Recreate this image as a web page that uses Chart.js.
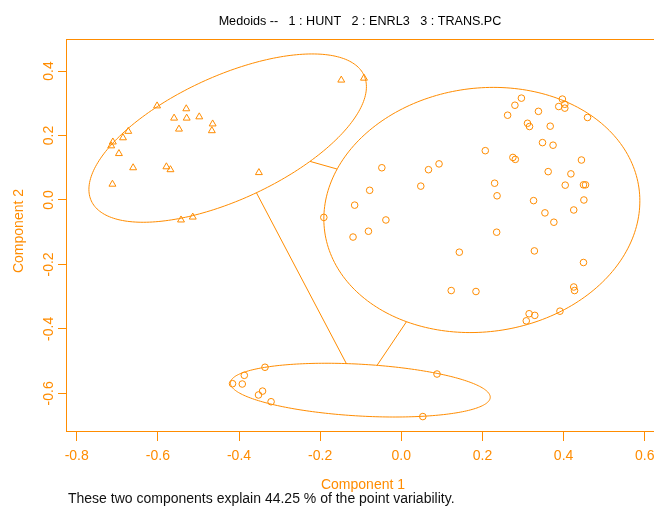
<!DOCTYPE html>
<html>
<head>
<meta charset="utf-8">
<script src="https://cdn.jsdelivr.net/npm/chart.js@4.4.0/dist/chart.umd.min.js"></script>
<style>
  html, body { margin: 0; padding: 0; background: #fff; }
</style>
</head>
<body>
<canvas id="myChart" width="654" height="508"></canvas>
<script>
// tick labels
const xTicks = [-0.8, -0.6, -0.4, -0.2, 0.0, 0.2, 0.4, 0.6];
const yTicks = [-0.6, -0.4, -0.2, 0.0, 0.2, 0.4];

// cluster 1 (HUNT) - triangles
const cluster1X = [-0.148, -0.092, -0.602, -0.530, -0.560, -0.529, -0.498, -0.465, -0.467, -0.548, -0.673,
                   -0.686, -0.711, -0.715, -0.696, -0.661, -0.579, -0.569, -0.351, -0.712, -0.543, -0.514];
const cluster1Y = [0.372, 0.378, 0.292, 0.283, 0.254, 0.254, 0.258, 0.236, 0.215, 0.220, 0.213,
                   0.193, 0.180, 0.168, 0.144, 0.100, 0.103, 0.094, 0.085, 0.049, -0.062, -0.053];

// cluster 2 (ENRL3) - circles
const cluster2X = [0.397, 0.403, 0.388, 0.403, 0.296, 0.280, 0.262, 0.338, 0.459, 0.311, 0.316, 0.367, 0.348,
                   0.374, 0.207, 0.275, 0.281, 0.444, -0.048, 0.093, 0.067, 0.362, 0.418, 0.048, 0.230, 0.404,
                   0.449, 0.454, -0.078, 0.236, 0.326, 0.450, -0.115, 0.425, 0.354, -0.191, 0.376, -0.038,
                   -0.081, -0.119, 0.235, 0.143, 0.328, 0.449, 0.123, 0.184, 0.425, 0.427, 0.315, 0.329, 0.308, 0.391];
const cluster2Y = [0.313, 0.297, 0.290, 0.285, 0.316, 0.294, 0.263, 0.275, 0.256, 0.238, 0.228, 0.229, 0.178,
                   0.170, 0.153, 0.132, 0.126, 0.124, 0.100, 0.112, 0.094, 0.088, 0.081, 0.043, 0.052, 0.046,
                   0.047, 0.047, 0.030, 0.013, -0.002, 0.000, -0.016, -0.031, -0.040, -0.054, -0.069, -0.062,
                   -0.097, -0.115, -0.100, -0.162, -0.158, -0.194, -0.281, -0.284, -0.270, -0.281, -0.353, -0.358, -0.375, -0.345];

// cluster 3 (TRANS.PC) - circles
const cluster3X = [-0.336, -0.387, -0.416, -0.392, -0.342, -0.352, -0.321, 0.088, 0.053];
const cluster3Y = [-0.519, -0.544, -0.570, -0.571, -0.593, -0.605, -0.626, -0.540, -0.672];

// cluster ellipses: centre and two conjugate semi-axis vectors (data units)
const ellipseCX = [-0.428, 0.1985, -0.101];
const ellipseCY = [0.192, -0.031, -0.590];
const ellipseAX = [0.336, 0.3872, 0.3202];
const ellipseAY = [0.195, 0.0683, -0.0229];
const ellipseBX = [0.0638, 0.0418, -0.0036];
const ellipseBY = [-0.1737, -0.3742, -0.0802];
const linkPairs = [[0, 1], [0, 2], [1, 2]];

const titleText = 'Medoids --   1 : HUNT   2 : ENRL3   3 : TRANS.PC';
const footText = 'These two components explain 44.25 % of the point variability.';

const orange = '#ff8c00';
const fam = '"Liberation Sans", Arial, sans-serif';

function pts(xs, ys) {
  return xs.map((x, i) => ({ x: x, y: ys[i] }));
}

// where the line from centre i to centre j leaves ellipse i
function ellipseExit(i, j) {
  const dx = ellipseCX[j] - ellipseCX[i], dy = ellipseCY[j] - ellipseCY[i];
  const det = ellipseAX[i] * ellipseBY[i] - ellipseBX[i] * ellipseAY[i];
  const a = (dx * ellipseBY[i] - ellipseBX[i] * dy) / det;
  const b = (ellipseAX[i] * dy - dx * ellipseAY[i]) / det;
  const t = 1 / Math.hypot(a, b);
  return [ellipseCX[i] + t * dx, ellipseCY[i] + t * dy];
}

const clusPlot = {
  id: 'clusPlot',
  beforeDatasetsDraw(chart) {
    const { ctx, chartArea, scales: { x, y } } = chart;
    ctx.save();
    ctx.strokeStyle = orange;
    ctx.lineWidth = 1;
    // frame (right side runs off the canvas, as in the original)
    ctx.strokeRect(chartArea.left - 0.5, chartArea.top - 0.5, chartArea.right - chartArea.left + 30, chartArea.bottom - chartArea.top);
    // ellipses
    for (let e = 0; e < ellipseCX.length; e++) {
      ctx.beginPath();
      for (let k = 0; k <= 240; k++) {
        const t = k / 240 * Math.PI * 2;
        const vx = ellipseCX[e] + ellipseAX[e] * Math.cos(t) + ellipseBX[e] * Math.sin(t);
        const vy = ellipseCY[e] + ellipseAY[e] * Math.cos(t) + ellipseBY[e] * Math.sin(t);
        const px = x.getPixelForValue(vx), py = y.getPixelForValue(vy);
        if (k === 0) ctx.moveTo(px, py); else ctx.lineTo(px, py);
      }
      ctx.closePath();
      ctx.stroke();
    }
    // links between ellipses
    linkPairs.forEach(([i, j]) => {
      const p = ellipseExit(i, j), q = ellipseExit(j, i);
      ctx.beginPath();
      ctx.moveTo(x.getPixelForValue(p[0]), y.getPixelForValue(p[1]));
      ctx.lineTo(x.getPixelForValue(q[0]), y.getPixelForValue(q[1]));
      ctx.stroke();
    });
    ctx.restore();
  },
  afterDraw(chart) {
    const { ctx, scales: { y } } = chart;
    ctx.save();
    // y tick labels, rotated like R
    ctx.fillStyle = orange;
    ctx.font = '14px ' + fam;
    ctx.textAlign = 'center';
    ctx.textBaseline = 'alphabetic';
    yTicks.forEach(v => {
      ctx.save();
      ctx.translate(52.7, y.getPixelForValue(v));
      ctx.rotate(-Math.PI / 2);
      ctx.fillText(v.toFixed(1), 0, 0);
      ctx.restore();
    });
    // axis titles
    ctx.save();
    ctx.translate(23, 231);
    ctx.rotate(-Math.PI / 2);
    ctx.fillText('Component 2', 0, 0);
    ctx.restore();
    ctx.fillText('Component 1', 363, 488.5);
    // main title
    ctx.fillStyle = '#000';
    ctx.font = '12.6px ' + fam;
    ctx.fillText(titleText, 360, 24.5);
    // footnote
    ctx.font = '14px ' + fam;
    ctx.textAlign = 'left';
    ctx.fillStyle = '#111';
    ctx.fillText(footText, 68, 503);
    ctx.restore();
  }
};

const ctx = document.getElementById('myChart');
new Chart(ctx, {
  type: 'scatter',
  data: {
    datasets: [
      { data: pts(cluster1X, cluster1Y), pointStyle: 'triangle', pointRadius: 4,
        borderColor: orange, backgroundColor: 'rgba(0,0,0,0)', borderWidth: 1 },
      { data: pts(cluster2X, cluster2Y), pointStyle: 'circle', pointRadius: 3.3,
        borderColor: orange, backgroundColor: 'rgba(0,0,0,0)', borderWidth: 1 },
      { data: pts(cluster3X, cluster3Y), pointStyle: 'circle', pointRadius: 3.3,
        borderColor: orange, backgroundColor: 'rgba(0,0,0,0)', borderWidth: 1 }
    ]
  },
  options: {
    responsive: false,
    animation: false,
    devicePixelRatio: 1,
    layout: { padding: { top: 40, right: 0, bottom: 0, left: 0 } },
    plugins: { legend: { display: false }, tooltip: { enabled: false } },
    scales: {
      x: {
        type: 'linear',
        min: -0.8240, max: 0.6105,
        afterBuildTicks: s => { s.ticks = xTicks.map(v => ({ value: v })); },
        afterFit: s => { s.height = 76; s.paddingLeft = 0; s.paddingRight = 0; },
        grid: { display: true, drawOnChartArea: false, drawTicks: true, tickLength: 9, color: orange, lineWidth: 1 },
        border: { display: false },
        ticks: { color: orange, font: { family: fam, size: 14 }, padding: 7, autoSkip: false, maxRotation: 0,
                 callback: v => Number(v).toFixed(1) }
      },
      y: {
        type: 'linear',
        min: -0.7199, max: 0.4964,
        afterBuildTicks: s => { s.ticks = yTicks.map(v => ({ value: v })); },
        afterFit: s => { s.width = 67; s.paddingTop = 0; s.paddingBottom = 0; },
        grid: { display: true, drawOnChartArea: false, drawTicks: true, tickLength: 9, color: orange, lineWidth: 1 },
        border: { display: false },
        ticks: { display: false }
      }
    }
  },
  plugins: [clusPlot]
});
</script>
</body>
</html>
